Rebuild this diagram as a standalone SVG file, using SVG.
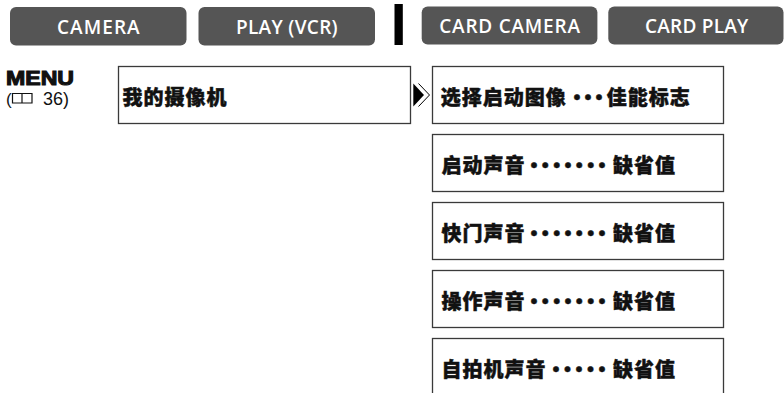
<svg xmlns="http://www.w3.org/2000/svg" width="784" height="393" viewBox="0 0 784 393">
<style>
.tab rect{fill:#555555}
.tab text{fill:#ffffff;font-family:"Open Sans","Liberation Sans",sans-serif;font-weight:600;font-size:19px;text-anchor:middle}
.box{fill:#ffffff;stroke:#3a3a3a;stroke-width:1.3}
.cj{font-family:"Noto Sans CJK SC","Noto Sans CJK JP",sans-serif;font-weight:900;font-size:20px;fill:#111111;stroke:#111111;stroke-width:0.45;letter-spacing:1px}
.dots{text-anchor:middle;letter-spacing:0}
</style>
<rect width="784" height="393" fill="#ffffff"/>
<g id="tab-camera" class="tab"><rect x="10" y="7" width="176.5" height="38.5" rx="6"/><text x="98.3" y="33.5" textLength="82.7">CAMERA</text></g>
<g id="tab-play" class="tab"><rect x="198.5" y="7" width="176.5" height="38.5" rx="6"/><text x="286.8" y="33.5" textLength="101.7">PLAY (VCR)</text></g>
<rect id="separator" x="394.5" y="4" width="8.3" height="41" fill="#000000"/>
<g id="tab-card-camera" class="tab"><rect x="421.7" y="6.5" width="175.7" height="38" rx="6"/><text x="509.6" y="33.3" textLength="140.7">CARD CAMERA</text></g>
<g id="tab-card-play" class="tab"><rect x="608.3" y="6.5" width="175.2" height="38" rx="6"/><text x="696.7" y="33.3" textLength="103.3">CARD PLAY</text></g>
<g id="menu-label">
<text x="6" y="85" font-family="'Liberation Sans',Arial,sans-serif" font-weight="700" font-size="20" fill="#111" stroke="#111" stroke-width="1.1" textLength="68" lengthAdjust="spacingAndGlyphs">MENU</text>
<text x="6" y="105" font-family="'Liberation Sans',Arial,sans-serif" font-size="17" fill="#111">(</text>
<path d="M12.5 93.5 H22 V103 H12.5 Z M22 93.5 H32 V103 H22 Z" fill="none" stroke="#111" stroke-width="1.2"/>
<text x="43" y="105" font-family="'Liberation Sans',Arial,sans-serif" font-size="18" fill="#111">36)</text>
</g>
<g id="node-my-camera"><rect class="box" x="118.5" y="66.5" width="292" height="57"/><text class="cj" x="122.5" y="104.5">我的摄像机</text></g>
<g id="connectors">
<path d="M413.3 83.5 L424 95 L413.3 106.5 Z" fill="#000000"/>
<path d="M418.5 83.5 L429.5 95 L418.5 106.5" fill="none" stroke="#000000" stroke-width="1"/>
</g>
<g id="node-start-image"><rect class="box" x="432.5" y="66.5" width="291" height="57"/><text class="cj" x="440.7" y="104.5">选择启动图像<tspan class="dots" x="577 588 599">···</tspan><tspan x="606.7">佳能标志</tspan></text></g>
<g id="node-start-sound"><rect class="box" x="432.5" y="134.5" width="291" height="57"/><text class="cj" x="441.5" y="172.5">启动声音<tspan class="dots" x="534 545.3 556.7 568 579.3 590.7 602">·······</tspan><tspan x="613">缺省值</tspan></text></g>
<g id="node-shutter-sound"><rect class="box" x="432.5" y="202.5" width="291" height="57"/><text class="cj" x="441.5" y="240.5">快门声音<tspan class="dots" x="534 545.3 556.7 568 579.3 590.7 602">·······</tspan><tspan x="613">缺省值</tspan></text></g>
<g id="node-operation-sound"><rect class="box" x="432.5" y="270.5" width="291" height="57"/><text class="cj" x="441.5" y="308.5">操作声音<tspan class="dots" x="534 545.3 556.7 568 579.3 590.7 602">·······</tspan><tspan x="613">缺省值</tspan></text></g>
<g id="node-self-timer-sound"><rect class="box" x="432.5" y="338.5" width="291" height="70"/><text class="cj" x="441.5" y="376.5">自拍机声音<tspan class="dots" x="556 567.5 579 590.5 602">·····</tspan><tspan x="613">缺省值</tspan></text></g>
</svg>
